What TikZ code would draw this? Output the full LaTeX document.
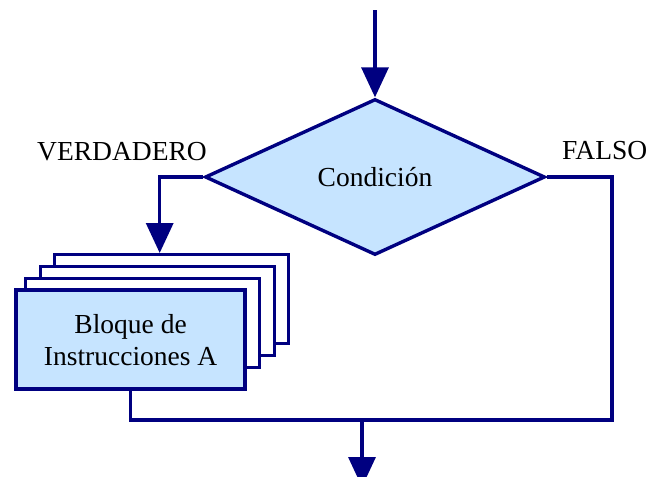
\documentclass[tikz,border=0pt]{standalone}
\usepackage{fontspec}
\setmainfont{Liberation Serif}
\usetikzlibrary{shapes.geometric,arrows.meta}
\definecolor{navy}{HTML}{000080}
\definecolor{lblue}{HTML}{C6E4FF}
\begin{document}
\begin{tikzpicture}[x=1pt,y=-1pt,
  line/.style={draw=navy,line width=3.4pt},
  arr/.style={line,-{Triangle[length=30pt,width=27pt]}},
  txt/.style={font=\fontsize{27.5}{33}\selectfont},
  backbox/.style={draw=navy,line width=3.4pt,fill=white,minimum width=234pt,minimum height=89pt,inner sep=0pt,anchor=north west}]
\clip (0,0) rectangle (665,477);
\fill[white] (0,0) rectangle (665,477);
\node[diamond,draw=navy,line width=3.4pt,fill=lblue,minimum width=340pt,minimum height=156pt,inner sep=0pt,txt] (cond) at (375,177) {Condición};
\node[backbox] (b3) at (53,253) {};
\node[backbox] (b2) at (38.5,265) {};
\node[backbox] (b1) at (24,277) {};
\node[draw=navy,line width=4.2pt,fill=lblue,minimum width=229pt,minimum height=99pt,inner sep=0pt,anchor=north west,align=center,txt] (blk) at (14,288) {Bloque de\\[-1pt]Instrucciones A};
\node[txt,anchor=base west,inner sep=0pt] (vl) at (37,160) {VERDADERO};
\node[txt,anchor=base west,inner sep=0pt] (fl) at (562,159) {FALSO};
\coordinate (start) at (375,10);
\coordinate (corner) at (612,420);
\coordinate (m) at (362,420);
\coordinate (endd) at (362,487);
\draw[arr] (start) -- (cond.north);
\draw[arr] (cond.west) -| ([xshift=-12pt]b3.north);
\draw[line] (cond.east) -| (corner) -| (blk.south);
\draw[arr] (m) -- (endd);
\end{tikzpicture}
\end{document}
